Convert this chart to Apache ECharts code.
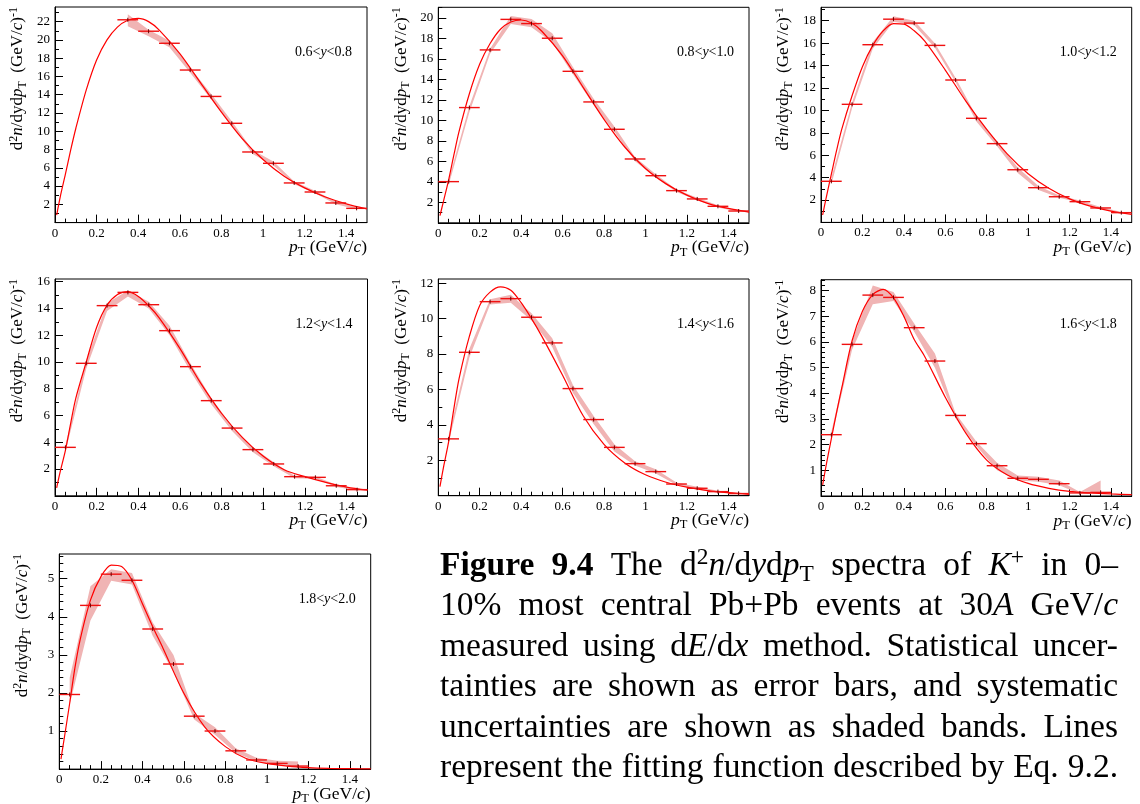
<!DOCTYPE html>
<html><head><meta charset="utf-8">
<script src="https://cdn.jsdelivr.net/npm/echarts@6/dist/echarts.min.js"></script>
<style>html,body{margin:0;padding:0;background:#fff}#c{width:1140px;height:804px}</style>
</head><body><div id="c"></div>
<script>
// ================= DATA =================
const XT = [0, 0.2, 0.4, 0.6, 0.8, 1, 1.2, 1.4];
const Y1T = [2, 4, 6, 8, 10, 12, 14, 16, 18, 20, 22];
const Y2T = [2, 4, 6, 8, 10, 12, 14, 16, 18, 20];
const Y3T = [2, 4, 6, 8, 10, 12, 14, 16, 18];
const Y4T = [2, 4, 6, 8, 10, 12, 14, 16];
const Y5T = [2, 4, 6, 8, 10, 12];
const Y6T = [1, 2, 3, 4, 5, 6, 7, 8];
const Y7T = [1, 2, 3, 4, 5];

const rapidity = [['0.6','0.8'],['0.8','1.0'],['1.0','1.2'],['1.2','1.4'],['1.4','1.6'],['1.6','1.8'],['1.8','2.0']];
const BIN_HALF = 0.05;

const pt1 = [0.35,0.45,0.55,0.65,0.75,0.85,0.95,1.05,1.15,1.25,1.35,1.45];
const val1 = [22.2,20.95,19.63,16.70,13.81,10.87,7.73,6.49,4.34,3.35,2.15,1.56];
const lo1 = [21.5,20.4,19.2,16.4,13.5,10.65,7.5,6.25,4.2,3.2,2.0,1.45];
const hi1 = [22.8,21.1,19.9,16.95,14.1,11.1,7.95,6.7,4.5,3.5,2.3,1.65];

const pt2 = [0.05,0.15,0.25,0.35,0.45,0.55,0.65,0.75,0.85,0.95,1.05,1.15,1.25,1.35,1.45];
const val2 = [4.02,11.25,16.88,19.86,19.45,18.02,14.79,11.80,9.13,6.23,4.60,3.14,2.33,1.61,1.15];
const lo2 = [3.7,10.8,16.5,19.4,19.1,17.6,14.5,11.5,8.9,6.0,4.4,3.0,2.2,1.5,1.08];
const hi2 = [4.2,11.4,17.0,20.2,19.9,18.5,15.2,12.1,9.4,6.4,4.75,3.25,2.45,1.72,1.22];

const pt3 = [0.05,0.15,0.25,0.35,0.45,0.55,0.65,0.75,0.85,0.95,1.05,1.15,1.25,1.35,1.45];
const val3 = [3.67,10.54,15.86,18.14,17.79,15.80,12.71,9.29,7.03,4.70,3.10,2.29,1.85,1.29,0.87];
const lo3 = [3.4,10.2,15.5,17.9,17.6,15.6,12.5,9.0,6.8,4.4,2.9,2.2,1.75,1.2,0.8];
const hi3 = [4.0,10.7,16.1,18.4,18.0,16.0,12.9,9.5,7.2,4.9,3.25,2.4,1.95,1.38,0.93];

const pt4 = [0.05,0.15,0.25,0.35,0.45,0.55,0.65,0.75,0.85,0.95,1.05,1.15,1.25,1.35,1.45];
const val4 = [3.62,9.90,14.21,15.20,14.28,12.34,9.65,7.11,5.06,3.45,2.38,1.43,1.38,0.75,0.46];
const lo4 = [3.3,9.5,13.8,14.9,14.0,12.0,9.3,6.85,4.85,3.25,2.2,1.32,1.28,0.66,0.4];
const hi4 = [3.8,10.1,14.4,15.35,14.5,12.7,9.9,7.3,5.2,3.6,2.5,1.5,1.45,0.82,0.52];

const pt5 = [0.05,0.15,0.25,0.35,0.45,0.55,0.65,0.75,0.85,0.95,1.05,1.15,1.25,1.35,1.45];
const val5 = [3.21,8.10,10.96,11.13,10.08,8.63,6.05,4.30,2.73,1.81,1.36,0.66,0.42,0.23,0.12];
const lo5 = [3.0,7.8,10.8,10.9,9.9,8.4,5.8,4.05,2.5,1.7,1.25,0.6,0.35,0.18,0.08];
const hi5 = [3.4,8.3,11.1,11.35,10.3,8.9,6.25,4.5,2.9,1.95,1.5,0.75,0.5,0.28,0.16];

const pt6 = [0.05,0.15,0.25,0.35,0.45,0.55,0.65,0.75,0.85,0.95,1.05,1.15,1.25,1.35];
const val6 = [2.39,5.91,7.83,7.74,6.56,5.26,3.14,2.04,1.18,0.69,0.65,0.48,0.12,0.14];
const lo6 = [2.25,5.7,7.47,7.6,6.4,5.0,3.02,1.95,1.0,0.6,0.56,0.42,0.08,0.1];
const hi6 = [2.5,6.05,8.2,7.95,6.72,5.55,3.22,2.12,1.3,0.8,0.75,0.6,0.16,0.6];

const pt7 = [0.05,0.15,0.25,0.35,0.45,0.55,0.65,0.75,0.85,0.95,1.05,1.15];
const val7 = [1.96,4.30,5.12,4.96,3.68,2.76,1.39,1.00,0.48,0.24,0.15,0.08];
const lo7 = [1.7,3.9,4.95,4.85,3.5,2.55,1.3,0.9,0.42,0.2,0.1,0.05];
const hi7 = [2.4,4.8,5.25,5.15,3.85,3.0,1.47,1.1,0.55,0.3,0.22,0.2];

// fit curves
const fitX = [0.008,0.025,0.05,0.075,0.1,0.15,0.2,0.25,0.3,0.35,0.4,0.45,0.5,0.6,0.7,0.8,0.9,1.0,1.1,1.2,1.3,1.4,1.5];
const fit1 = [0.83,2.8,5.3,7.9,10.3,14.5,17.8,20.0,21.4,22.15,22.35,22.0,21.1,18.5,15.3,12.1,9.2,6.9,5.1,3.8,2.8,2.05,1.5];
const fit2 = [0.7,2.1,4.2,6.6,8.9,12.6,15.5,17.5,18.9,19.6,19.8,19.5,18.7,16.3,13.2,10.1,7.4,5.3,3.8,2.7,1.9,1.4,1.05];
const fit3 = [0.66,2.2,4.3,6.4,8.3,11.3,13.9,15.8,17.1,17.75,17.7,17.1,16.2,13.6,10.8,8.3,6.1,4.35,3.05,2.1,1.45,1.0,0.72];
const fit4 = [0.6,1.8,3.4,5.4,7.3,10.0,12.6,14.25,15.05,15.25,14.9,14.2,13.3,11.0,8.4,6.15,4.35,2.95,1.95,1.43,1.0,0.65,0.42];
const fit5 = [0.51,1.6,3.05,4.9,6.6,9.0,10.75,11.5,11.8,11.6,10.9,10.0,9.0,6.8,4.5,2.9,1.85,1.18,0.76,0.48,0.29,0.17,0.08];
const fit6 = [0.43,1.2,2.24,3.25,4.2,6.05,7.2,7.85,8.05,7.72,7.0,6.1,5.45,3.85,2.44,1.40,0.82,0.49,0.30,0.18,0.12,0.08,0.05];
const fit7 = [0.26,0.85,1.73,2.65,3.39,4.44,5.05,5.36,5.32,4.96,4.35,3.74,3.17,1.99,1.11,0.59,0.28,0.15,0.08,0.04,0.02,0.01,0.005];

// ================= LAYOUT / STYLE =================
const FONT = '"Liberation Serif", "Times New Roman", serif';
const RED = '#ff0000';
const BAND = '#f0b4b4';

const panels = [
  {pt:pt1, val:val1, lo:lo1, hi:hi1, fit:fit1, yt:Y1T},
  {pt:pt2, val:val2, lo:lo2, hi:hi2, fit:fit2, yt:Y2T},
  {pt:pt3, val:val3, lo:lo3, hi:hi3, fit:fit3, yt:Y3T},
  {pt:pt4, val:val4, lo:lo4, hi:hi4, fit:fit4, yt:Y4T},
  {pt:pt5, val:val5, lo:lo5, hi:hi5, fit:fit5, yt:Y5T},
  {pt:pt6, val:val6, lo:lo6, hi:hi6, fit:fit6, yt:Y6T},
  {pt:pt7, val:val7, lo:lo7, hi:hi7, fit:fit7, yt:Y7T}
];
const boxes = [
  {left:55, top:7, width:312, height:215.6, ymax:23.6, step:2, minor:2},
  {left:438.3, top:7.3, width:310.7, height:215.5, ymax:21.04, step:2, minor:2},
  {left:821, top:7.3, width:310.7, height:215.1, ymax:19.2, step:2, minor:2},
  {left:55, top:279, width:312.5, height:216.8, ymax:16.2, step:2, minor:2},
  {left:438.3, top:279, width:310.7, height:216.7, ymax:12.24, step:2, minor:2},
  {left:821, top:279.7, width:310.7, height:216.3, ymax:8.43, step:1, minor:5},
  {left:59.3, top:554, width:311.4, height:215.1, ymax:5.65, step:1, minor:5}
];

const axRich = {
  ar:{fontFamily:FONT, fontSize:17, lineHeight:21, fill:'#000'},
  ai:{fontFamily:FONT, fontSize:17, lineHeight:21, fontStyle:'italic', fill:'#000'},
  asup:{fontFamily:FONT, fontSize:12, lineHeight:12, verticalAlign:'top', fill:'#000'},
  asub:{fontFamily:FONT, fontSize:12, lineHeight:11, verticalAlign:'bottom', fill:'#000'}
};
const xRich = {
  xr:{fontFamily:FONT, fontSize:17.5, lineHeight:22, fill:'#000'},
  xi:{fontFamily:FONT, fontSize:17.5, lineHeight:22, fontStyle:'italic', fill:'#000'},
  xsub:{fontFamily:FONT, fontSize:12.5, lineHeight:10, verticalAlign:'bottom', fill:'#000'}
};
const rRich = {
  rr:{fontFamily:FONT, fontSize:14, lineHeight:18, fill:'#000'},
  ri:{fontFamily:FONT, fontSize:14, lineHeight:18, fontStyle:'italic', fill:'#000'}
};
const Y_TITLE = '{ar|d}{asup|2}{ai|n}{ar|/dyd}{ai|p}{asub|T}{ar|  (GeV/}{ai|c}{ar|)}{asup|-1}';
const X_TITLE = '{xi|p}{xsub|T}{xr| (GeV/}{xi|c}{xr|)}';

const grid = [], xAxis = [], yAxis = [], series = [], graphic = [];

panels.forEach((p, i) => {
  const B = boxes[i];
  grid.push({left:B.left, top:B.top, width:B.width, height:B.height, show:true,
    borderColor:'#000', borderWidth:1, backgroundColor:'transparent'});
  const labelStyle = {color:'#000', fontFamily:FONT, fontSize:13};
  xAxis.push({type:'value', gridIndex:i, min:0, max:1.5, interval:0.2,
    axisLine:{show:true, onZero:false, lineStyle:{color:'#000', width:1}},
    axisTick:{show:true, inside:true, length:8, customValues:XT, lineStyle:{color:'#000', width:1}},
    minorTick:{show:true, splitNumber:4, length:4, lineStyle:{color:'#000', width:1}},
    splitLine:{show:false}, minorSplitLine:{show:false},
    axisLabel:Object.assign({customValues:XT, margin:4, formatter:v => String(v)}, labelStyle)});
  yAxis.push({type:'value', gridIndex:i, min:0, max:B.ymax, interval:B.step,
    axisLine:{show:true, onZero:false, lineStyle:{color:'#000', width:1}},
    axisTick:{show:true, inside:true, length:8, customValues:p.yt, lineStyle:{color:'#000', width:1}},
    minorTick:{show:true, splitNumber:B.minor, length:4, lineStyle:{color:'#000', width:1}},
    splitLine:{show:false}, minorSplitLine:{show:false},
    axisLabel:Object.assign({customValues:p.yt, margin:5, formatter:v => String(v)}, labelStyle)});

  // systematic band
  series.push({type:'custom', xAxisIndex:i, yAxisIndex:i, z:1, silent:true, clip:true,
    data:p.pt.map((x, j) => [x, p.lo[j], p.hi[j]]),
    encode:{x:0, y:[1, 2]},
    renderItem:(params, api) => {
      if (params.dataIndex !== 0) return null;
      const pts = [];
      for (let j = 0; j < p.pt.length; j++) pts.push(api.coord([p.pt[j], p.hi[j]]));
      for (let j = p.pt.length - 1; j >= 0; j--) pts.push(api.coord([p.pt[j], p.lo[j]]));
      return {type:'polygon', shape:{points:pts}, style:{fill:BAND, stroke:null}};
    }});
  // fit curve
  series.push({type:'line', xAxisIndex:i, yAxisIndex:i, z:2, silent:true,
    data:fitX.map((x, j) => [x, p.fit[j]]),
    showSymbol:false, symbol:'none', smooth:0.3,
    lineStyle:{color:RED, width:1.2}});
  // data points with bin-width bars
  series.push({type:'custom', xAxisIndex:i, yAxisIndex:i, z:3, silent:true,
    data:p.pt.map((x, j) => [x, p.val[j]]),
    renderItem:(params, api) => {
      const xv = api.value(0), yv = api.value(1);
      const a = api.coord([xv - BIN_HALF, yv]);
      const b = api.coord([xv + BIN_HALF, yv]);
      const c = api.coord([xv, yv]);
      return {type:'group', children:[
        {type:'line', shape:{x1:a[0], y1:a[1], x2:b[0], y2:b[1]}, style:{stroke:'#f01010', lineWidth:1.4}},
        {type:'line', shape:{x1:c[0], y1:c[1] - 2, x2:c[0], y2:c[1] + 2}, style:{stroke:'#700000', lineWidth:1}}
      ]};
    }});

  // axis titles and rapidity label
  graphic.push({type:'text', x:B.left - 37, y:B.top, rotation:Math.PI / 2, silent:true,
    style:{text:Y_TITLE, rich:axRich, align:'right', verticalAlign:'middle', fill:'#000'}});
  graphic.push({type:'text', x:B.left + B.width, y:B.top + B.height + 14, silent:true,
    style:{text:X_TITLE, rich:xRich, align:'right', verticalAlign:'top', fill:'#000'}});
  const r = rapidity[i];
  graphic.push({type:'text', x:B.left + B.width - 15, y:B.top + 45, silent:true,
    style:{text:'{rr|' + r[0] + '<}{ri|y}{rr|<' + r[1] + '}', rich:rRich, align:'right', verticalAlign:'middle', fill:'#000'}});
});

// ================= CAPTION (justified) =================
const CAP_SIZE = 33.5, CAP_LH = 40;
const capLines = [
  [[['b','Figure']],[['b','9.4']],[['r','The']],[['r','d'],['sup','2'],['i','n'],['r','/d'],['i','y'],['r','d'],['i','p'],['sub','T']],[['r','spectra']],[['r','of']],[['i','K'],['sup','+']],[['r','in']],[['r','0–']]],
  [[['r','10%']],[['r','most']],[['r','central']],[['r','Pb+Pb']],[['r','events']],[['r','at']],[['r','30'],['i','A']],[['r','GeV/'],['i','c']]],
  [[['r','measured']],[['r','using']],[['r','d'],['i','E'],['r','/d'],['i','x']],[['r','method.']],[['r','Statistical']],[['r','uncer-']]],
  [[['r','tainties']],[['r','are']],[['r','shown']],[['r','as']],[['r','error']],[['r','bars,']],[['r','and']],[['r','systematic']]],
  [[['r','uncertainties']],[['r','are']],[['r','shown']],[['r','as']],[['r','shaded']],[['r','bands.']],[['r','Lines']]],
  [[['r','represent']],[['r','the']],[['r','fitting']],[['r','function']],[['r','described']],[['r','by']],[['r','Eq.']],[['r','9.2.']]]
];
const CAP_LEFT = 440, CAP_RIGHT = 1118, CAP_Y0 = 566, CAP_DY = 40.5;
const capRich = {
  r:{fontFamily:FONT, fontSize:CAP_SIZE, lineHeight:CAP_LH, fill:'#000'},
  b:{fontFamily:FONT, fontSize:CAP_SIZE, lineHeight:CAP_LH, fontWeight:'bold', fill:'#000'},
  i:{fontFamily:FONT, fontSize:CAP_SIZE, lineHeight:CAP_LH, fontStyle:'italic', fill:'#000'},
  sup:{fontFamily:FONT, fontSize:CAP_SIZE * 0.7, lineHeight:23, verticalAlign:'top', fill:'#000'},
  sub:{fontFamily:FONT, fontSize:CAP_SIZE * 0.7, lineHeight:24, verticalAlign:'bottom', fill:'#000'}
};
const mctx = document.createElement('canvas').getContext('2d');
function segFont(s) {
  const st = capRich[s];
  return (st.fontStyle === 'italic' ? 'italic ' : '') + (st.fontWeight === 'bold' ? 'bold ' : '') + st.fontSize + 'px ' + FONT;
}
function wordWidth(w) {
  let t = 0;
  w.forEach(([s, txt]) => { mctx.font = segFont(s); t += mctx.measureText(txt).width; });
  return t;
}
capLines.forEach((line, li) => {
  const widths = line.map(wordWidth);
  const total = widths.reduce((a, b) => a + b, 0);
  const gap = (CAP_RIGHT - CAP_LEFT - total) / (line.length - 1);
  let x = CAP_LEFT;
  line.forEach((w, wi) => {
    graphic.push({type:'text', x:x, y:CAP_Y0 + li * CAP_DY, silent:true,
      style:{text:w.map(([s, t]) => '{' + s + '|' + t + '}').join(''), rich:capRich, align:'left', verticalAlign:'middle', fill:'#000'}});
    x += widths[wi] + gap;
  });
});

const chart = echarts.init(document.getElementById('c'), null, {renderer:'canvas'});
chart.setOption({
  backgroundColor:'#fff', animation:false,
  grid, xAxis, yAxis, series, graphic
});
</script>
</body></html>
